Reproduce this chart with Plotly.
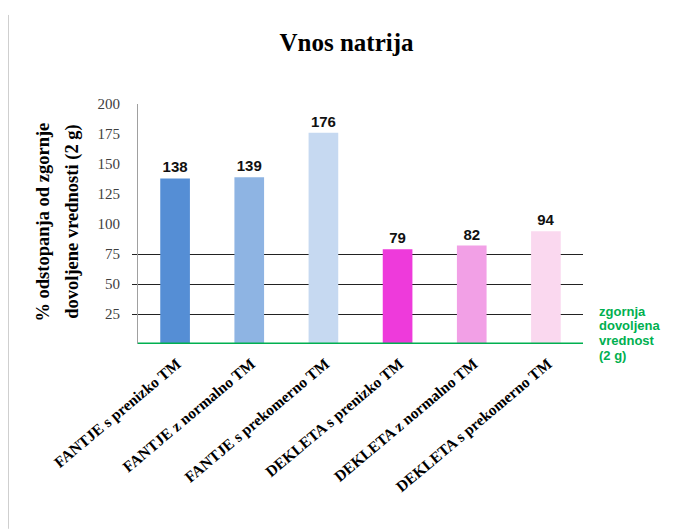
import plotly.graph_objects as go

categories = ["FANTJE s prenizko TM", "FANTJE z normalno TM", "FANTJE s prekomerno TM",
              "DEKLETA s prenizko TM", "DEKLETA z normalno TM", "DEKLETA s prekomerno TM"]
values = [138, 139, 176, 79, 82, 94]
colors = ["#558ED5", "#8EB4E3", "#C6D9F1", "#EE3ADB", "#F2A0E6", "#FAD8EF"]
y_ticks = [25, 50, 75, 100, 125, 150, 175, 200]
grid_vals = [25, 50, 75]
limit_value = 0
limit_label = ["zgornja", "dovoljena", "vrednost", "(2 g)"]

SERIF = "Liberation Serif, Times New Roman, serif"
SANS = "Liberation Sans, Arial, sans-serif"

fig = go.Figure()
# invisible trace on second axis to show gridlines at 25/50/75 only
fig.add_trace(go.Scatter(x=categories, y=[None]*len(categories), yaxis="y2",
                         showlegend=False, hoverinfo="skip"))
fig.add_trace(go.Bar(
    x=categories, y=values, marker=dict(color=colors, line=dict(width=0)),
    text=["<b>%d</b>" % v for v in values], textposition="outside",
    textfont=dict(family=SANS, size=15, color="#111111"),
    cliponaxis=False, showlegend=False,
))

fig.update_layout(
    width=677, height=529,
    margin=dict(l=130, r=102, t=96, b=193, autoexpand=False),
    paper_bgcolor="white", plot_bgcolor="rgba(0,0,0,0)",
    title=dict(text="<b>Vnos natrija</b>", x=0.5, xanchor="center", y=0.936, yanchor="middle",
               font=dict(family=SERIF, size=25, color="black")),
    bargap=0.6,
    xaxis=dict(showgrid=False, showline=False, ticks="", tickangle=-40, automargin=False,
               tickfont=dict(family=SERIF, size=15.5, color="black"),
               tickprefix="<b>", ticksuffix="</b>",
               ticklabelshift=2, ticklabelstandoff=7),
    yaxis=dict(range=[0, 200], tickvals=y_ticks, showgrid=False, zeroline=False, automargin=False,
               showline=True, linecolor="#A0A0A0", linewidth=1, ticks="",
               ticklabelstandoff=14,
               tickfont=dict(family=SERIF, size=15, color="#404040")),
    yaxis2=dict(range=[0, 200], overlaying="y", tickvals=grid_vals, showticklabels=False,
                showgrid=True, gridcolor="#222222", gridwidth=1, zeroline=False, automargin=False,
                ticks="outside", ticklen=5, tickcolor="#222222"),
)

# y-axis title (two lines)
fig.add_annotation(xref="paper", yref="paper", x=-0.2135, y=0.51, textangle=-90,
                   xanchor="center", yanchor="middle",
                   text="<b>% odstopanja od zgornje</b>", showarrow=False,
                   font=dict(family=SERIF, size=18.5, color="black"))
fig.add_annotation(xref="paper", yref="paper", x=-0.148, y=0.51, textangle=-90,
                   xanchor="center", yanchor="middle",
                   text="<b>dovoljene vrednosti (2 g)</b>", showarrow=False,
                   font=dict(family=SERIF, size=18.5, color="black"))

# green limit line (upper allowed value)
fig.add_shape(type="line", xref="paper", yref="y", x0=0, x1=1, y0=limit_value, y1=limit_value,
              line=dict(color="#00B050", width=3))
for i, line in enumerate(limit_label):
    fig.add_annotation(xref="paper", yref="y", x=1.031, y=27.5, xanchor="left", yanchor="middle",
                       yshift=-14.7 * i, text="<b>%s</b>" % line, showarrow=False, align="left",
                       font=dict(family=SANS, size=13, color="#00B050"))
# chart frame left edge
fig.add_shape(type="line", xref="paper", yref="paper", x0=-0.2921, x1=-0.2921, y0=-0.77, y1=1.371,
              line=dict(color="#A0A0A0", width=1))

fig.write_html("out.html")
